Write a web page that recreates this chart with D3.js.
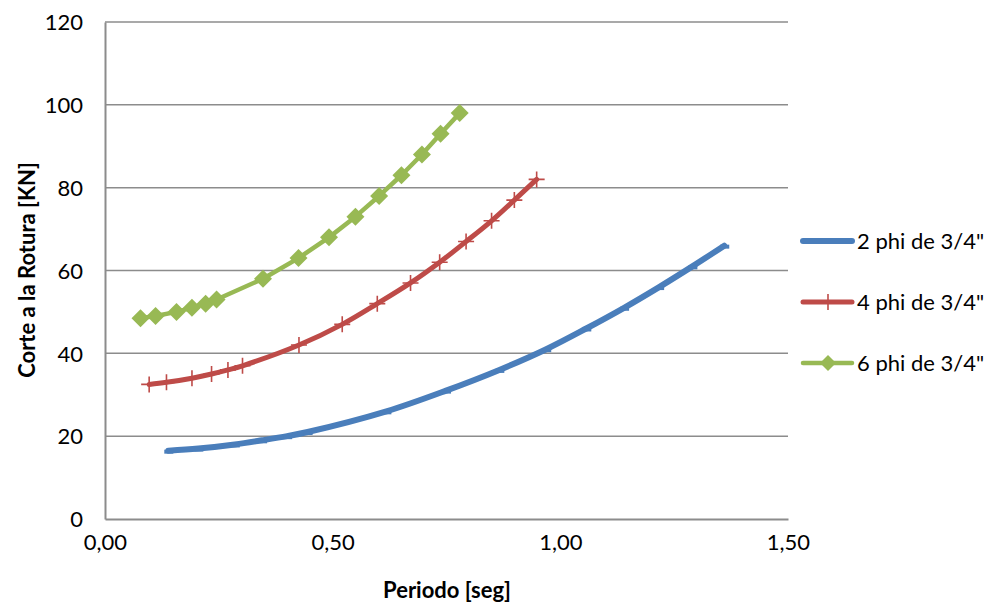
<!DOCTYPE html>
<html>
<head>
<meta charset="utf-8">
<script src="https://cdn.jsdelivr.net/npm/d3@7"></script>
<style>
  body { margin: 0; background: #fff; }
  svg text { font-family: Lato, "Open Sans", sans-serif; fill: #000; }
</style>
</head>
<body>
<div class="chart"></div>
<script>
// series: [periodo, corte]
let serie2 = [[0.139, 16.5], [0.205, 17], [0.285, 18], [0.345, 19], [0.400, 20], [0.445, 21],
    [0.618, 26], [0.749, 31], [0.866, 36], [0.969, 41], [1.057, 46], [1.140, 51], [1.217, 56], [1.290, 61], [1.360, 66]]
let serie4 = [[0.097, 32.5], [0.135, 33], [0.191, 34], [0.234, 35], [0.270, 36], [0.302, 37],
    [0.426, 42], [0.521, 47], [0.598, 52], [0.671, 57], [0.735, 62], [0.793, 67], [0.849, 72], [0.899, 77], [0.948, 82]]
let serie6 = [[0.078, 48.5], [0.111, 49], [0.157, 50], [0.191, 51], [0.221, 52], [0.245, 53],
    [0.347, 58], [0.425, 63], [0.492, 68], [0.550, 73], [0.602, 78], [0.651, 83], [0.696, 88], [0.737, 93], [0.779, 98]]
let seriesNames = ['2 phi de 3/4"', '4 phi de 3/4"', '6 phi de 3/4"']
let xTicks = [0, 0.5, 1, 1.5]
let yTicks = [0, 20, 40, 60, 80, 100, 120]

let width = 992, height = 604
let plotLeft = 105, plotRight = 788, plotTop = 22, plotBottom = 519

let svg = d3.select(".chart")
    .append("svg")
    .attr("width", width)
    .attr("height", height)

let x = d3.scaleLinear().domain([0, 1.5]).range([plotLeft, plotRight])
let y = d3.scaleLinear().domain([0, 120]).range([plotBottom, plotTop])

// grid
svg.append("g")
    .selectAll("line")
    .data(yTicks.filter(d => d > 0))
    .enter()
    .append("line")
    .attr("x1", plotLeft).attr("x2", plotRight)
    .attr("y1", d => y(d)).attr("y2", d => y(d))
    .attr("stroke", "#8c8c8c")
    .attr("stroke-width", 1.5)

// axes
let yAxis = svg.append("g")
    .attr("transform", `translate(${plotLeft},0)`)
    .call(d3.axisLeft(y).tickValues(yTicks).tickSize(0).tickPadding(22))
yAxis.select(".domain").attr("stroke", "#8c8c8c").attr("stroke-width", 2)
yAxis.selectAll("text").attr("font-size", 22).attr("dy", "0.35em")

let xAxis = svg.append("g")
    .attr("transform", `translate(0,${plotBottom})`)
    .call(d3.axisBottom(x).tickValues(xTicks).tickSize(0).tickPadding(18)
        .tickFormat(d => d3.format(".2f")(d).replace(".", ",")))
xAxis.select(".domain").attr("stroke", "#8c8c8c").attr("stroke-width", 2)
xAxis.selectAll("text").attr("font-size", 22).attr("dy", "0.6em")

// axis titles
svg.append("text")
    .attr("x", 447)
    .attr("y", 598)
    .attr("text-anchor", "middle")
    .attr("font-size", 22)
    .attr("font-weight", "bold")
    .text("Periodo [seg]")
svg.append("text")
    .attr("transform", "translate(35,270) rotate(-90)")
    .attr("text-anchor", "middle")
    .attr("font-size", 22)
    .attr("font-weight", "bold")
    .text("Corte a la Rotura [KN]")

let smooth = d3.line().x(d => x(d[0])).y(d => y(d[1])).curve(d3.curveCatmullRom.alpha(0.5))
let straight = d3.line().x(d => x(d[0])).y(d => y(d[1]))

// 2 phi
svg.append("path")
    .attr("d", smooth(serie2))
    .attr("fill", "none")
    .attr("stroke", "#4a7ebb")
    .attr("stroke-width", 6)
    .attr("stroke-linecap", "round")
svg.append("g").selectAll("rect")
    .data(serie2)
    .enter()
    .append("rect")
    .attr("x", d => x(d[0]) - 4)
    .attr("y", d => y(d[1]) - 1)
    .attr("width", 9)
    .attr("height", 4)
    .attr("fill", "#4a7ebb")

// 4 phi
svg.append("path")
    .attr("d", smooth(serie4))
    .attr("fill", "none")
    .attr("stroke", "#be4b48")
    .attr("stroke-width", 5)
    .attr("stroke-linecap", "round")
let cross = (cx, cy) => `M${cx - 8},${cy} H${cx + 8} M${cx},${cy - 8} V${cy + 8}`
svg.append("g").selectAll("path")
    .data(serie4)
    .enter()
    .append("path")
    .attr("d", d => cross(x(d[0]), y(d[1])))
    .attr("stroke", "#be4b48")
    .attr("stroke-width", 1.6)

// 6 phi
svg.append("path")
    .attr("d", straight(serie6))
    .attr("fill", "none")
    .attr("stroke", "#98b954")
    .attr("stroke-width", 4.5)
    .attr("stroke-linejoin", "round")
let diamond = (cx, cy, r) => `M${cx},${cy - r} L${cx + r},${cy} L${cx},${cy + r} L${cx - r},${cy} Z`
svg.append("g").selectAll("path")
    .data(serie6)
    .enter()
    .append("path")
    .attr("d", d => diamond(x(d[0]), y(d[1]), 9))
    .attr("fill", "#98b954")

// legend
let legendY = [241, 302, 363]
let colors = ["#4a7ebb", "#be4b48", "#98b954"]
let lg = svg.append("g")
seriesNames.forEach((name, i) => {
    let ly = legendY[i]
    lg.append("path")
        .attr("d", `M803,${ly} H852`)
        .attr("stroke", colors[i])
        .attr("stroke-width", [6, 5, 4.5][i])
        .attr("stroke-linecap", "round")
    if (i == 1) lg.append("path").attr("d", cross(828, ly)).attr("stroke", colors[i]).attr("stroke-width", 1.6)
    if (i == 2) lg.append("path").attr("d", diamond(828, ly, 8)).attr("fill", colors[i])
    lg.append("text")
        .attr("x", 857)
        .attr("y", ly)
        .attr("dy", "0.35em")
        .attr("font-size", 22)
        .text(name)
})
</script>
</body>
</html>
